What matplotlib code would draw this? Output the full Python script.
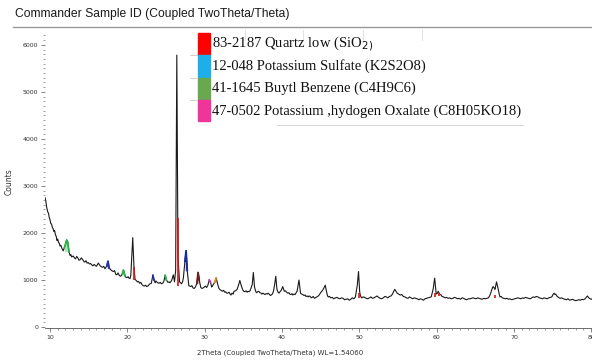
import numpy as np
import matplotlib
matplotlib.use('Agg')
import matplotlib.pyplot as plt
from matplotlib.ticker import MultipleLocator

# scan: (2theta, counts)
scan = [(9.35,2750),(9.45,2690),(9.55,2560),(9.7,2450),(9.8,2420),(9.9,2330),(10.0,2280),(10.1,2200),
        (10.2,2190),(10.3,2120),(10.4,2090),(10.5,2030),(10.6,2050),(10.7,1960),(10.8,1930),(10.9,1840),
        (11.0,1870),(11.1,1800),(11.2,1780),(11.3,1720),(11.4,1740),(11.5,1690),(11.6,1650),(11.7,1620),
        (11.85,1680),(12.0,1760),(12.15,1850),(12.3,1800),(12.45,1600),(12.6,1520),(12.7,1540),(12.8,1490),
        (13.0,1510),(13.15,1470),(13.3,1450),(13.45,1500),(13.6,1470),(13.75,1420),(13.9,1430),(14.05,1470),
        (14.2,1440),(14.35,1400),(14.5,1380),(14.65,1410),(14.8,1360),(14.95,1370),(15.1,1340),(15.25,1350),
        (15.4,1320),(15.55,1300),(15.7,1330),(15.85,1310),(16.0,1290),(16.25,1360),(16.4,1320),(16.5,1300),
        (16.65,1280),(16.8,1270),(16.95,1290),(17.1,1240),(17.2,1260),(17.35,1300),(17.5,1400),(17.65,1250),
        (17.8,1230),(17.9,1210),(18.05,1190),(18.2,1180),(18.35,1200),(18.5,1120),(18.65,1110),(18.8,1150),
        (18.95,1100),(19.1,1080),(19.2,1090),(19.35,1130),(19.5,1210),(19.7,1090),(19.8,1060),(19.95,1050),
        (20.1,1070),(20.2,1040),(20.35,1030),(20.45,1100),(20.6,1600),(20.7,1900),(20.85,1300),(21.0,1010),
        (21.15,990),(21.3,960),(21.45,970),(21.6,930),(21.75,950),(21.9,900),(22.05,880),(22.2,870),
        (22.35,890),(22.5,860),(22.65,870),(22.8,900),(22.95,920),(23.1,930),(23.3,1100),(23.45,1000),
        (23.6,940),(23.7,980),(23.8,960),(23.95,940),(24.1,930),(24.25,950),(24.4,920),(24.55,930),
        (24.7,960),(24.9,1100),(25.05,1000),(25.25,950),(25.4,960),(25.5,940),(25.65,970),(25.75,1000),
        (25.95,1110),(26.1,960),(26.25,1200),(26.4,5780),(26.55,1500),(26.75,960),(26.9,940),(27.0,920),
        (27.15,960),(27.25,1050),(27.45,1400),(27.6,1620),(27.75,1200),(27.95,880),(28.1,870),(28.2,860),
        (28.35,880),(28.5,830),(28.65,820),(28.8,850),(29.0,930),(29.15,1160),(29.3,1000),(29.5,840),
        (29.65,820),(29.8,830),(29.95,850),(30.1,870),(30.25,840),(30.4,880),(30.6,1000),(30.75,960),
        (30.9,850),(31.0,870),(31.1,900),(31.3,950),(31.5,1040),(31.7,900),(31.85,820),(31.95,800),
        (32.1,780),(32.3,760),(32.45,780),(32.6,740),(32.7,750),(32.85,720),(33.0,720),(33.15,740),
        (33.3,700),(33.4,680),(33.55,720),(33.7,700),(33.8,760),(34.0,770),(34.2,800),(34.4,900),
        (34.55,990),(34.7,900),(34.9,800),(35.05,760),(35.2,750),(35.35,770),(35.5,740),(35.6,760),
        (35.75,750),(35.9,780),(36.15,900),(36.3,1160),(36.45,850),(36.6,760),(36.7,730),(36.85,750),
        (37.0,760),(37.15,730),(37.3,720),(37.4,700),(37.55,720),(37.7,700),(37.8,690),(37.95,710),
        (38.1,700),(38.2,720),(38.35,700),(38.5,670),(38.6,680),(38.75,700),(38.9,760),(39.05,900),
        (39.2,1080),(39.35,800),(39.5,740),(39.6,720),(39.75,750),(39.9,780),(40.1,860),(40.3,760),
        (40.45,770),(40.6,740),(40.75,720),(40.9,730),(41.0,700),(41.15,690),(41.3,710),(41.4,680),
        (41.55,700),(41.7,690),(41.8,720),(41.95,760),(42.05,850),(42.2,1000),(42.4,720),(42.55,700),
        (42.7,690),(42.85,670),(43.0,680),(43.1,650),(43.25,660),(43.4,640),(43.5,660),(43.65,650),
        (43.8,620),(43.9,630),(44.05,650),(44.2,610),(44.3,620),(44.5,640),(44.7,660),(44.85,690),
        (45.0,730),(45.15,760),(45.3,790),(45.45,840),(45.6,890),(45.75,760),(45.9,660),(46.0,640),
        (46.15,650),(46.3,620),(46.5,630),(46.7,600),(46.9,620),(47.1,630),(47.3,610),(47.5,600),
        (47.7,620),(47.9,610),(48.1,580),(48.3,590),(48.5,600),(48.7,570),(48.9,590),(49.1,620),
        (49.3,600),(49.5,640),(49.75,900),(49.9,1180),(50.05,750),(50.15,660),(50.3,620),(50.5,640),
        (50.7,630),(50.9,610),(51.1,600),(51.3,620),(51.5,640),(51.7,610),(51.9,620),(52.1,640),
        (52.3,660),(52.5,630),(52.7,610),(52.9,600),(53.1,620),(53.3,650),(53.5,640),(53.7,620),
        (53.9,650),(54.1,660),(54.3,700),(54.45,760),(54.6,800),(54.75,760),(54.9,720),(55.1,700),
        (55.3,680),(55.5,690),(55.7,650),(55.9,640),(56.1,620),(56.3,610),(56.5,640),(56.7,620),
        (56.9,600),(57.1,620),(57.3,610),(57.5,600),(57.7,580),(57.9,600),(58.1,590),(58.3,570),
        (58.5,600),(58.7,610),(58.9,620),(59.1,630),(59.3,640),(59.55,800),(59.75,1040),(59.95,700),
        (60.1,720),(60.2,760),(60.3,730),(60.45,690),(60.6,680),(60.7,650),(60.9,640),(61.1,620),
        (61.3,630),(61.5,610),(61.7,620),(61.9,600),(62.1,610),(62.3,630),(62.5,620),(62.7,600),
        (62.9,610),(63.1,590),(63.3,620),(63.5,610),(63.7,590),(63.9,580),(64.1,600),(64.3,600),
        (64.5,610),(64.7,620),(64.9,610),(65.1,600),(65.3,620),(65.5,610),(65.7,600),(65.9,590),
        (66.1,610),(66.3,600),(66.5,610),(66.7,620),(66.85,660),(67.0,720),(67.15,800),(67.3,860),
        (67.45,830),(67.55,800),(67.75,960),(67.95,820),(68.1,700),(68.2,640),(68.35,650),(68.5,620),
        (68.7,610),(68.9,600),(69.1,610),(69.3,590),(69.5,600),(69.7,580),(69.9,590),(70.1,600),
        (70.3,610),(70.5,620),(70.7,610),(70.9,600),(71.1,620),(71.3,610),(71.5,630),(71.7,620),
        (71.9,610),(72.1,600),(72.3,620),(72.5,640),(72.7,630),(72.9,650),(73.1,640),(73.3,620),
        (73.5,610),(73.7,600),(73.9,620),(74.1,610),(74.3,600),(74.5,620),(74.7,630),(74.9,640),
        (75.05,690),(75.2,720),(75.3,690),(75.4,700),(75.55,660),(75.7,640),(75.85,620),(76.0,610),
        (76.2,620),(76.4,600),(76.6,590),(76.8,580),(77.0,600),(77.2,570),(77.4,580),(77.6,590),
        (77.8,570),(78.0,560),(78.2,570),(78.4,580),(78.6,570),(78.8,590),(79.0,580),(79.2,600),
        (79.35,630),(79.5,660),(79.6,640),(79.7,620),(79.85,600),(80.0,590),(80.1,600)]

# coloured peak outlines (phase match)
peak_lo = [11.85, 17.3, 19.3, 23.2, 24.85, 25.8, 27.3, 29.0, 30.55, 31.3]
peak_hi = [12.45, 17.65, 19.7, 23.5, 25.2, 26.05, 27.8, 29.35, 30.85, 31.6]
peak_col = ['#2db34a', '#2233aa', '#2db34a', '#2233aa', '#2db34a', '#2233aa', '#1a2a9c',
            '#6b1f1f', '#cc33cc', '#e08a1e']

# red reference sticks (quartz)
stick_pos = [20.8, 26.55, 50.0, 59.8, 60.3, 67.5]
stick_lo = [1000, 870, 620, 640, 650, 620]
stick_hi = [1280, 2320, 720, 720, 720, 680]

legend_labels = ['83-2187 Quartz low (SiO$_2$$_)$',
                 '12-048 Potassium Sulfate (K2S2O8)',
                 '41-1645 Buytl Benzene (C4H9C6)',
                 '47-0502 Potassium ,hydogen Oxalate (C8H05KO18)']
legend_cols = ['#ff0000', '#1eaee8', '#6aa84f', '#f0359a']

tt = np.array([p[0] for p in scan])
cnt = np.array([p[1] for p in scan])

fig = plt.figure(figsize=(5.92, 3.6), dpi=100)
ax = fig.add_axes([0.076, 0.089, 0.924, 0.814])

ax.plot(tt, cnt, color='#1a1a1a', lw=0.8, zorder=3)
for lo, hi, c in zip(peak_lo, peak_hi, peak_col):
    m = (tt >= lo) & (tt <= hi)
    base = min(cnt[m][0], cnt[m][-1])
    ax.fill_between(tt[m], base, cnt[m], color=c, alpha=0.35, lw=0, zorder=2)
    ax.plot(tt[m], cnt[m], color=c, lw=1.3, zorder=4)
ax.vlines(stick_pos, stick_lo, stick_hi, color='#e01010', lw=1.2, zorder=5)

ax.set_xlim(9.35, 80.1)
ax.set_ylim(-20, 6210)
for s in ['top', 'right', 'left']:
    ax.spines[s].set_visible(False)
ax.spines['bottom'].set_color('#555555')
ax.spines['bottom'].set_linewidth(0.6)

ax.xaxis.set_major_locator(MultipleLocator(10))
ax.xaxis.set_minor_locator(MultipleLocator(1))
ax.yaxis.set_major_locator(MultipleLocator(1000))
ax.yaxis.set_minor_locator(MultipleLocator(100))
ax.tick_params(axis='both', which='major', labelsize=4.5, length=3, width=0.5,
               color='#555555', labelcolor='#333333', pad=2)
ax.tick_params(axis='both', which='minor', length=1.5, width=0.5, color='#777777')

ax.set_ylabel('Counts', fontsize=5.5, color='#333333', labelpad=6)
ax.set_xlabel('2Theta (Coupled TwoTheta/Theta) WL=1.54060', fontsize=5, color='#333333',
              labelpad=6)
ax.xaxis.set_label_coords(0.43, -0.075)

fig.text(15 / 592, 1 - 14 / 360, 'Commander Sample ID (Coupled TwoTheta/Theta)', fontsize=8.7,
         color='#1a1a1a', va='center', ha='left', family='Liberation Sans')
fig.add_artist(plt.Line2D([13 / 592, 1.0], [1 - 27 / 360, 1 - 27 / 360], color='#999999', lw=1.0,
                          transform=fig.transFigure))

# legend drawn as a pasted table
row_h = 22.3 / 360
top = 1 - 33 / 360
for i, (lab, c) in enumerate(zip(legend_labels, legend_cols)):
    y0 = top - (i + 1) * row_h
    fig.patches.append(plt.Rectangle((198 / 592, y0 + 0.002), 12 / 592, row_h - 0.002,
                                     transform=fig.transFigure, color=c, zorder=6))
    fig.text(212 / 592, y0 + row_h / 2, lab, fontsize=10.5, family='Liberation Serif',
             va='center', ha='left', color='#111111', zorder=7)
    if i > 0:
        fig.add_artist(plt.Line2D([190 / 592, 198 / 592], [y0 + row_h, y0 + row_h],
                                  color='#cccccc', lw=0.6, transform=fig.transFigure))
yb = top - 4 * row_h - 3 / 360
fig.add_artist(plt.Line2D([277 / 592, 523 / 592], [yb, yb], color='#cccccc', lw=0.6,
                          transform=fig.transFigure))
for xv in [245, 303, 363, 422]:
    fig.add_artist(plt.Line2D([xv / 592, xv / 592], [1 - 30 / 360, 1 - 40 / 360],
                              color='#dddddd', lw=0.6, transform=fig.transFigure))

fig.savefig('out.png', dpi=100, facecolor='white')
